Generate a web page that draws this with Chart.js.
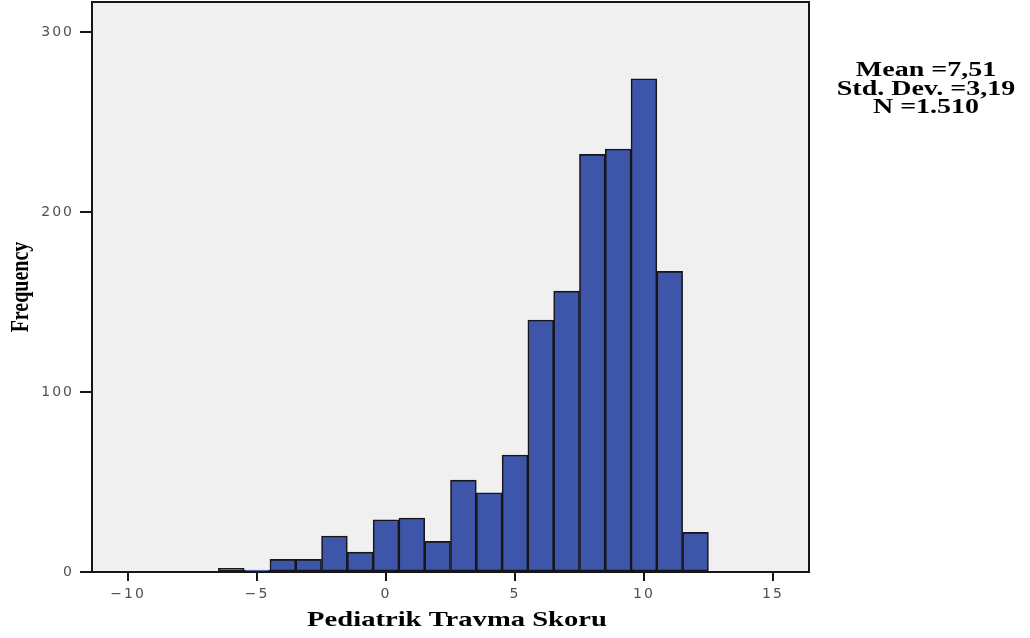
<!DOCTYPE html>
<html>
<head>
<meta charset="utf-8">
<script src="https://cdn.jsdelivr.net/npm/chart.js@4"></script>
<style>
  html, body { margin: 0; padding: 0; background: #ffffff; }
  canvas { display: block; }
</style>
</head>
<body>
<canvas id="hist" width="1030" height="638"></canvas>
<script>
// Histogram of Pediatrik Travma Skoru (bins of width 1, centred on integers)
const scores      = [-6, -5, -4, -3, -2, -1, 0, 1, 2, 3, 4, 5, 6, 7, 8, 9, 10, 11, 12];
const frequencies = [2, 1, 7, 7, 20, 11, 29, 30, 17, 51, 44, 65, 140, 156, 232, 235, 274, 167, 22];

const xTickValues = [-10, -5, 0, 5, 10, 15];
const yTickValues = [0, 100, 200, 300];

const summaryLines = ['Mean =7,51', 'Std. Dev. =3,19', 'N =1.510'];
const xTitle = 'Pediatrik Travma Skoru';
const yTitle = 'Frequency';

const INK = '#161616';
const BAR = '#3e56a9';
const PANEL = '#f0f0f0';
const SERIF = '"Liberation Serif", "Times New Roman", serif';

// Wide, horizontally stretched serif text
function stretchedText(ctx, text, x, y, sx, font, rotate) {
  ctx.save();
  ctx.font = font;
  ctx.fillStyle = '#000';
  ctx.textAlign = 'center';
  ctx.textBaseline = 'alphabetic';
  ctx.translate(x, y);
  ctx.scale(sx, 1);
  if (rotate) {
    ctx.rotate(-Math.PI / 2);
    ctx.textBaseline = 'middle';
  }
  ctx.fillText(text, 0, 0);
  ctx.restore();
}

const panelPlugin = {
  id: 'panel',
  beforeDraw(chart) {
    const { ctx, chartArea: a } = chart;
    ctx.save();
    ctx.fillStyle = PANEL;
    ctx.fillRect(a.left, a.top, a.right - a.left, a.bottom - a.top);
    ctx.restore();
    // spaced-out tick numerals
    ctx.letterSpacing = '2px';
  },
  beforeDatasetsDraw(chart) {
    chart.ctx.letterSpacing = '0px';
  },
  afterDatasetsDraw(chart) {
    const { ctx, chartArea: a } = chart;
    ctx.save();
    ctx.strokeStyle = INK;
    ctx.lineWidth = 2;
    ctx.strokeRect(a.left, a.top, a.right - a.left, a.bottom - a.top);
    ctx.restore();
  },
  afterDraw(chart) {
    const { ctx, chartArea: a } = chart;
    ctx.letterSpacing = '0px';
    // axis titles
    stretchedText(ctx, xTitle, 457, 626, 1.3, 'bold 22px ' + SERIF, false);
    stretchedText(ctx, yTitle, 22, (a.top + a.bottom) / 2, 1.25, 'bold 20px ' + SERIF, true);
    // summary statistics
    const baselines = [76, 95, 113];
    summaryLines.forEach((line, i) => {
      stretchedText(ctx, line, 926, baselines[i], 1.4, 'bold 20px ' + SERIF, false);
    });
  }
};

const tickFont = { family: '"DejaVu Sans", sans-serif', size: 14 };

new Chart(document.getElementById('hist'), {
  type: 'bar',
  data: {
    datasets: [{
      data: scores.map((s, i) => ({ x: s, y: frequencies[i] })),
      backgroundColor: BAR,
      borderColor: INK,
      borderWidth: 1.6,
      borderSkipped: false,
      barPercentage: 1,
      categoryPercentage: 1
    }]
  },
  options: {
    responsive: false,
    animation: false,
    events: [],
    layout: { padding: { left: 0, top: 2, right: 221, bottom: 0 } },
    plugins: {
      legend: { display: false },
      tooltip: { enabled: false }
    },
    scales: {
      x: {
        type: 'linear',
        min: -11.4,
        max: 16.4,
        offset: false,
        afterBuildTicks: scale => { scale.ticks = xTickValues.map(v => ({ value: v })); },
        afterFit: scale => {
          scale.height = 66;
          scale.paddingLeft = 0;
          scale.paddingRight = 0;
        },
        grid: {
          display: true,
          drawOnChartArea: false,
          drawTicks: true,
          tickLength: 9,
          color: INK,
          lineWidth: 2,
          offset: false
        },
        border: { display: false },
        ticks: {
          autoSkip: false,
          maxRotation: 0,
          padding: 5,
          color: '#505050',
          font: tickFont,
          callback: v => String(v).replace('-', '\u2212')
        }
      },
      y: {
        type: 'linear',
        min: 0,
        max: 316.67,
        afterBuildTicks: scale => { scale.ticks = yTickValues.map(v => ({ value: v })); },
        afterFit: scale => {
          scale.width = 92;
          scale.paddingTop = 0;
          scale.paddingBottom = 0;
        },
        grid: {
          display: true,
          drawOnChartArea: false,
          drawTicks: true,
          tickLength: 12,
          color: INK,
          lineWidth: 2
        },
        border: { display: false },
        ticks: {
          padding: 6,
          color: '#505050',
          font: tickFont
        }
      }
    }
  },
  plugins: [panelPlugin]
});
</script>
</body>
</html>
